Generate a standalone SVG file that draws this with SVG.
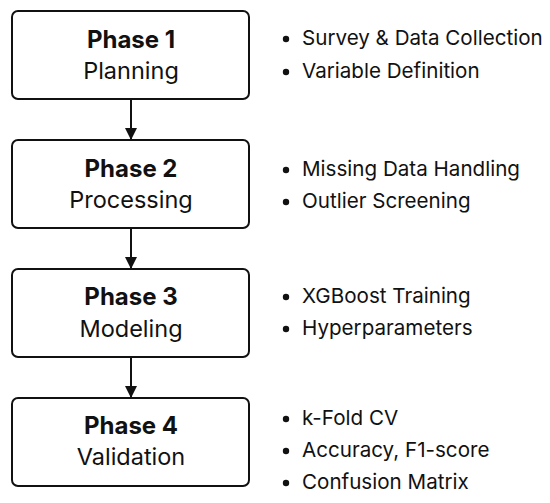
<svg xmlns="http://www.w3.org/2000/svg" width="550" height="503" viewBox="0 0 550 503">
<style>
.box{fill:#fff;stroke:#111;stroke-width:2}
.t{font-family:Inter,"Liberation Sans",sans-serif;fill:#111;text-anchor:middle}
.b{font-weight:bold;font-size:24px}
.s{font-size:23.5px}
.li{font-family:Inter,"Liberation Sans",sans-serif;fill:#111;font-size:20.6px}
.dot{fill:#111}
.c{stroke:#111;stroke-width:2;fill:none}
</style>
<defs>
<marker id="ah" viewBox="0 0 12 12" refX="12" refY="6" markerWidth="12" markerHeight="12" markerUnits="userSpaceOnUse" orient="auto">
<path d="M0,0 L12,6 L0,12 Z" fill="#111"/>
</marker>
</defs>
<rect width="550" height="503" fill="#fff"/>
<g id="connectors">
<line class="c" x1="131" y1="99" x2="131" y2="140" marker-end="url(#ah)"/>
<line class="c" x1="131" y1="228" x2="131" y2="269" marker-end="url(#ah)"/>
<line class="c" x1="131" y1="357" x2="131" y2="398" marker-end="url(#ah)"/>
</g>
<g id="phase1">
<rect class="box" x="12" y="11" width="237" height="88" rx="6"/>
<text class="t b" x="131" y="48">Phase 1</text>
<text class="t s" x="131" y="79">Planning</text>
</g>
<g id="phase2">
<rect class="box" x="12" y="140" width="237" height="88" rx="6"/>
<text class="t b" x="131" y="177">Phase 2</text>
<text class="t s" x="131" y="208">Processing</text>
</g>
<g id="phase3">
<rect class="box" x="12" y="269" width="237" height="88" rx="6"/>
<text class="t b" x="131" y="305">Phase 3</text>
<text class="t s" x="131" y="337">Modeling</text>
</g>
<g id="phase4">
<rect class="box" x="12" y="398" width="237" height="88" rx="6"/>
<text class="t b" x="131" y="434">Phase 4</text>
<text class="t s" x="131" y="465">Validation</text>
</g>
<g id="list1">
<circle class="dot" cx="286" cy="39" r="3.2"/>
<text class="li" x="302" y="45">Survey &amp; Data Collection</text>
<circle class="dot" cx="286" cy="72" r="3.2"/>
<text class="li" x="302" y="78">Variable Definition</text>
</g>
<g id="list2">
<circle class="dot" cx="286" cy="170" r="3.2"/>
<text class="li" x="302" y="176">Missing Data Handling</text>
<circle class="dot" cx="286" cy="202" r="3.2"/>
<text class="li" x="302" y="208">Outlier Screening</text>
</g>
<g id="list3">
<circle class="dot" cx="286" cy="297" r="3.2"/>
<text class="li" x="302" y="303">XGBoost Training</text>
<circle class="dot" cx="286" cy="329" r="3.2"/>
<text class="li" x="302" y="335">Hyperparameters</text>
</g>
<g id="list4">
<circle class="dot" cx="286" cy="419" r="3.2"/>
<text class="li" x="302" y="425">k-Fold CV</text>
<circle class="dot" cx="286" cy="451" r="3.2"/>
<text class="li" x="302" y="457">Accuracy, F1-score</text>
<circle class="dot" cx="286" cy="483" r="3.2"/>
<text class="li" x="302" y="489">Confusion Matrix</text>
</g>
</svg>
